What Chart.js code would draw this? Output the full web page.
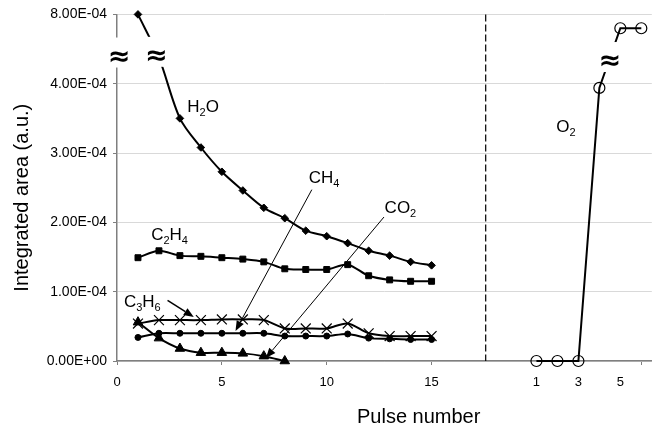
<!DOCTYPE html>
<html>
<head>
<meta charset="utf-8">
<title>Integrated area per pulse</title>
<script src="https://cdn.jsdelivr.net/npm/chart.js@4.4.1/dist/chart.umd.min.js"></script>
<style>
  html, body { margin: 0; padding: 0; background: #fff; }
  canvas { display: block; }
</style>
</head>
<body>
<canvas id="pulseChart" width="660" height="432"></canvas>
<script>
// pulse numbers
var pulses = [1, 2, 3, 4, 5, 6, 7, 8, 9, 10, 11, 12, 13, 14, 15];
var c3h6Pulses = [1, 2, 3, 4, 5, 6, 7, 8];
var o2Pulses = [1, 2, 3, 4, 5, 6];
var o2Shift = 19; // O2 pulses are placed right of the dashed divider

// integrated areas (a.u.)
var h2o  = [8.0e-4, 5.5e-4, 3.50e-4, 3.08e-4, 2.73e-4, 2.46e-4, 2.21e-4, 2.06e-4, 1.88e-4, 1.80e-4, 1.70e-4, 1.59e-4, 1.52e-4, 1.43e-4, 1.38e-4];
var c2h4 = [1.49e-4, 1.59e-4, 1.52e-4, 1.51e-4, 1.49e-4, 1.47e-4, 1.43e-4, 1.33e-4, 1.32e-4, 1.32e-4, 1.39e-4, 1.23e-4, 1.17e-4, 1.15e-4, 1.15e-4];
var ch4  = [0.54e-4, 0.59e-4, 0.59e-4, 0.59e-4, 0.60e-4, 0.60e-4, 0.59e-4, 0.47e-4, 0.47e-4, 0.47e-4, 0.54e-4, 0.40e-4, 0.36e-4, 0.36e-4, 0.36e-4];
var co2  = [0.34e-4, 0.40e-4, 0.40e-4, 0.40e-4, 0.40e-4, 0.40e-4, 0.40e-4, 0.36e-4, 0.36e-4, 0.36e-4, 0.39e-4, 0.33e-4, 0.32e-4, 0.31e-4, 0.31e-4];
var c3h6 = [0.56e-4, 0.33e-4, 0.18e-4, 0.12e-4, 0.12e-4, 0.11e-4, 0.07e-4, 0.0];
var o2   = [0, 0, 0, 3.94e-4, 7.2e-4, 7.2e-4];

// tick labels
var leftTicks = [0, 5, 10, 15];
var o2Ticks = [1, 3, 5];
var o2EndTick = 6;

// y axis is broken above 4E-04: 4E-04..8E-04 is squeezed into one step
var breakStart = 4e-4;
var breakFactor = 4;
function toAxis(v) { return v <= breakStart ? v : breakStart + (v - breakStart) / breakFactor; }
function fromAxis(v) { return v <= breakStart + 1e-12 ? v : breakStart + (v - breakStart) * breakFactor; }

function sci(v) {
  if (Math.abs(v) < 1e-12) v = 0;
  var s = v.toExponential(2).split('e');
  var e = parseInt(s[1], 10);
  return s[0] + 'E' + (e < 0 ? '-' : '+') + String(Math.abs(e)).padStart(2, '0');
}

function points(xs, ys, shift) {
  return xs.map(function (p, i) { return { x: p + (shift || 0), y: toAxis(ys[i]) }; });
}

var FONT = '"Liberation Sans", Arial, sans-serif';
Chart.defaults.font.family = FONT;
Chart.defaults.color = '#000';

function series(label, data, style, radius, extra) {
  var ds = {
    label: label,
    data: data,
    borderColor: '#000',
    backgroundColor: '#000',
    borderWidth: 2,
    tension: 0.3,
    pointStyle: style,
    pointRadius: radius,
    pointBorderWidth: 1,
    pointBorderColor: '#000',
    pointBackgroundColor: '#000',
    clip: false
  };
  return Object.assign(ds, extra || {});
}

var o2TickValues = o2Ticks.map(function (t) { return t + o2Shift; });
var xTickValues = leftTicks.concat(o2TickValues, [o2EndTick + o2Shift]);

function xTickLabel(v) {
  if (leftTicks.indexOf(v) >= 0) return String(v);
  if (o2TickValues.indexOf(v) >= 0) return String(v - o2Shift);
  return '';
}

// break marks, divider, formula labels, arrows and axis titles
var notes = {
  id: 'notes',
  afterDraw: function (chart) {
    var ctx = chart.ctx, area = chart.chartArea;
    var xs = chart.scales.x, ys = chart.scales.y;
    var px = function (v) { return xs.getPixelForValue(v); };
    var py = function (v) { return ys.getPixelForValue(v); };

    ctx.save();

    // dashed divider between the two pulse sequences
    ctx.strokeStyle = '#000';
    ctx.lineWidth = 1.2;
    ctx.setLineDash([7, 3]);
    ctx.beginPath();
    ctx.moveTo(px(17.58), area.top);
    ctx.lineTo(px(17.58), area.bottom);
    ctx.stroke();
    ctx.setLineDash([]);

    // axis / line breaks
    [[0.1, 4.45e-4], [1.88, 4.46e-4], [23.5, 4.385e-4]].forEach(function (b) {
      var cx = px(b[0]), cy = py(b[1]);
      ctx.fillStyle = '#fff';
      ctx.fillRect(cx - 11, cy - 15, 22, 30);
      ctx.fillStyle = '#000';
      ctx.font = 'bold 27px "DejaVu Sans"';
      ctx.textAlign = 'center';
      ctx.textBaseline = 'middle';
      ctx.fillText('\u2248', cx, cy + 5);
    });

    // formula labels, digits set as subscripts
    ctx.textAlign = 'left';
    ctx.textBaseline = 'alphabetic';
    [['H2O', 3.35, 3.59e-4], ['C2H4', 1.63, 1.74e-4], ['C3H6', 0.33, 0.78e-4],
     ['CH4', 9.14, 2.57e-4], ['CO2', 12.76, 2.14e-4], ['O2', 20.94, 3.30e-4]].forEach(function (l) {
      var x = px(l[1]), y = py(l[2]);
      for (var i = 0; i < l[0].length; i++) {
        var ch = l[0][i];
        var sub = /[0-9]/.test(ch);
        ctx.font = (sub ? '11px ' : '17px ') + FONT;
        ctx.fillText(ch, x, sub ? y + 4 : y);
        x += ctx.measureText(ch).width;
      }
    });

    // pointer arrows
    [[2.41, 0.876e-4, 3.66, 0.635e-4, 1.5], [9.29, 2.472e-4, 5.65, 0.433e-4, 1],
     [12.73, 2.077e-4, 7.10, 0.043e-4, 1]].forEach(function (a) {
      var x1 = px(a[0]), y1 = py(a[1]), x2 = px(a[2]), y2 = py(a[3]);
      var ang = Math.atan2(y2 - y1, x2 - x1);
      var len = 10, half = 4;
      var bx = x2 - len * Math.cos(ang), by = y2 - len * Math.sin(ang);
      ctx.strokeStyle = '#000';
      ctx.lineWidth = a[4];
      ctx.beginPath();
      ctx.moveTo(x1, y1);
      ctx.lineTo(bx, by);
      ctx.stroke();
      ctx.fillStyle = '#000';
      ctx.beginPath();
      ctx.moveTo(x2, y2);
      ctx.lineTo(bx + half * Math.sin(ang), by - half * Math.cos(ang));
      ctx.lineTo(bx - half * Math.sin(ang), by + half * Math.cos(ang));
      ctx.closePath();
      ctx.fill();
    });

    // axis titles
    ctx.fillStyle = '#000';
    ctx.font = '20px ' + FONT;
    ctx.textAlign = 'left';
    ctx.textBaseline = 'alphabetic';
    ctx.fillText('Pulse number', 357, 423);

    ctx.translate(22, (area.top + area.bottom) / 2 + 10);
    ctx.rotate(-Math.PI / 2);
    ctx.textAlign = 'center';
    ctx.textBaseline = 'middle';
    ctx.fillText('Integrated area (a.u.)', 0, 0);

    ctx.restore();
  }
};

var ctx = document.getElementById('pulseChart').getContext('2d');
var pulseChart = new Chart(ctx, {
  type: 'line',
  data: {
    datasets: [
      series('C3H6', points(c3h6Pulses, c3h6), 'triangle', 5.5),
      series('CO2', points(pulses, co2), 'circle', 3),
      series('CH4', points(pulses, ch4), 'crossRot', 7, { pointBorderWidth: 1.2 }),
      series('C2H4', points(pulses, c2h4), 'rect', 4.2),
      series('H2O', points(pulses, h2o), 'rectRot', 3.8),
      series('O2', points(o2Pulses, o2, o2Shift), 'circle', 5.5,
             { tension: 0, pointBackgroundColor: 'rgba(0,0,0,0)', pointBorderWidth: 1.2 })
    ]
  },
  options: {
    responsive: false,
    animation: false,
    layout: { padding: { top: 14, left: 0, right: 0, bottom: 0 } },
    plugins: {
      legend: { display: false },
      tooltip: { enabled: false }
    },
    scales: {
      x: {
        type: 'linear',
        min: 0,
        max: 25.5,
        afterBuildTicks: function (scale) {
          scale.ticks = xTickValues.map(function (v) { return { value: v }; });
        },
        afterFit: function (scale) { scale.height = 71; },
        ticks: {
          autoSkip: false,
          maxRotation: 0,
          padding: 10,
          font: { size: 13 },
          callback: function (v) { return xTickLabel(v); }
        },
        grid: {
          drawOnChartArea: false,
          tickLength: 4,
          tickColor: function (c) {
            return c.tick && o2TickValues.indexOf(c.tick.value) >= 0 ? 'rgba(0,0,0,0)' : '#7f7f7f';
          }
        },
        border: { color: '#7f7f7f', width: 1.5 }
      },
      y: {
        min: 0,
        max: 5e-4,
        afterFit: function (scale) { scale.width = 117; },
        ticks: {
          stepSize: 1e-4,
          padding: 6,
          font: { size: 14 },
          callback: function (v) { return sci(fromAxis(v)); }
        },
        grid: {
          color: '#d9d9d9',
          tickColor: '#7f7f7f',
          tickLength: 4
        },
        border: { color: '#7f7f7f', width: 1.5 }
      }
    }
  },
  plugins: [notes]
});
</script>
</body>
</html>
